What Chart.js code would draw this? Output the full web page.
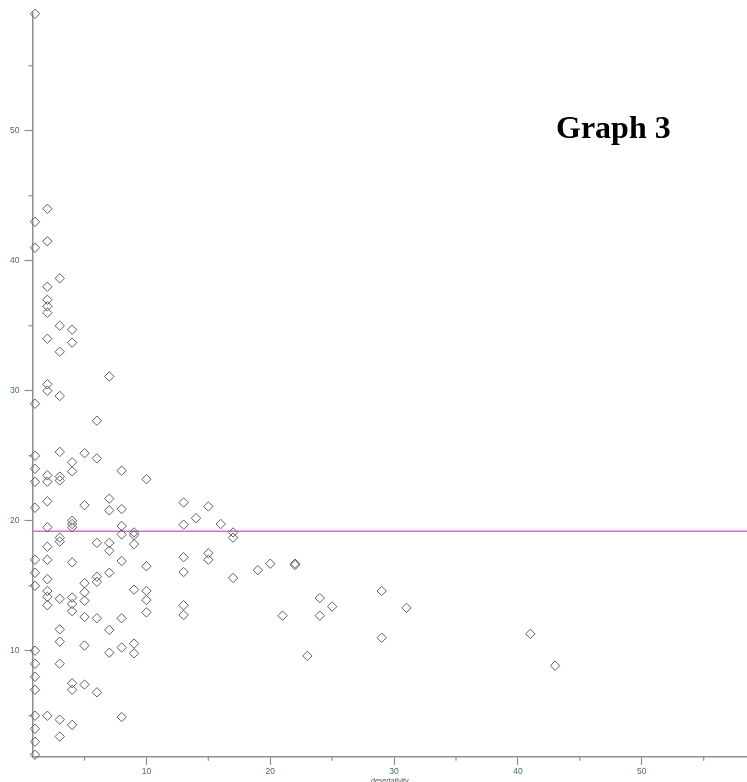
<!DOCTYPE html>
<html>
<head>
<meta charset="utf-8">
<script src="https://cdn.jsdelivr.net/npm/chart.js@4"></script>
<style>
  html, body { margin: 0; padding: 0; background: #fff; }
  #wrap { position: relative; width: 747px; height: 782px; }
  #title { position: absolute; left: 556px; top: 111px; font: bold 32px 'Liberation Serif', 'Times New Roman', serif; line-height: 32px; color: #000; white-space: nowrap; }
</style>
</head>
<body>
<div id="wrap">
  <canvas id="c" width="747" height="782"></canvas>
  <div id="title">Graph 3</div>
</div>
<script>
// ---- data ----
const xValues = [
  1,1,1,1,1,1,1,1,1,1,1,1,1,1,1,1,1,1,1,
  2,2,2,2,2,2,2,2,2,2,2,2,2,2,2,2,2,2,2,2,
  3,3,3,3,3,3,3,3,3,3,3,3,3,3,3,
  4,4,4,4,4,4,4,4,4,4,4,4,4,4,
  5,5,5,5,5,5,5,5,
  6,6,6,6,6,6,6,
  7,7,7,7,7,7,7,7,
  8,8,8,8,8,8,8,8,
  9,9,9,9,9,9,
  10,10,10,10,10,
  13,13,13,13,13,13,
  14,
  15,15,15,
  16,
  17,17,17,
  19,20,21,22,22,23,24,24,25,29,29,31,41,43
];
const yValues = [
  59,43,41,29,25,24,23,21,17,16,15,10,9,8,7,5,4,3,2,
  44,41.5,38,37,36.5,36,34,30.5,30,23.5,23,21.5,19.5,18,17,15.5,14.6,14.15,13.5,5,
  38.65,35,33,29.6,25.3,23.4,23.1,18.7,18.4,14,11.65,10.7,9,4.7,3.4,
  34.7,33.7,24.5,23.8,20,19.75,19.5,16.8,14.1,13.6,13.05,7.5,7,4.3,
  25.2,21.2,15.2,14.5,13.85,12.6,10.4,7.4,
  27.7,24.8,18.3,15.7,15.3,12.5,6.8,
  31.1,21.7,20.8,18.3,17.7,16,11.6,9.85,
  23.85,20.9,19.6,18.95,16.9,12.5,10.25,4.9,
  19.1,18.9,18.2,14.7,10.55,9.8,
  23.2,16.5,14.6,13.9,12.95,
  21.4,19.7,17.2,16.05,13.5,12.75,
  20.2,
  21.1,17.5,17,
  19.75,
  19.1,18.7,15.6,
  16.2,16.7,12.7,16.7,16.6,9.6,14.05,12.7,13.4,14.6,11,13.3,11.3,8.85
];
const referenceLevel = 19.2;
const xRange = [0.8, 58.5];
const yRange = [1.85, 59.1];
const majorTicks = [10, 20, 30, 40, 50];
const minorTicks = [5, 15, 25, 35, 45, 55];
const xAxisTitle = 'desertativity';

const points = xValues.map((x, i) => ({ x: x, y: yValues[i] }));

const axisColor = '#8f8f8f';
const labelColor = '#4b6b6e';

const minorTickPlugin = {
  id: 'minorTicks',
  afterDraw(chart) {
    const ctx = chart.ctx;
    const xs = chart.scales.x, ys = chart.scales.y;
    ctx.save();
    ctx.strokeStyle = axisColor;
    ctx.lineWidth = 1.2;
    minorTicks.forEach(v => {
      if (v > xs.min && v < xs.max) {
        const px = xs.getPixelForValue(v);
        ctx.beginPath(); ctx.moveTo(px, xs.top); ctx.lineTo(px, xs.top + 4); ctx.stroke();
      }
      if (v > ys.min && v < ys.max) {
        const py = ys.getPixelForValue(v);
        ctx.beginPath(); ctx.moveTo(ys.right - 4, py); ctx.lineTo(ys.right, py); ctx.stroke();
      }
    });
    ctx.restore();
  }
};

function noPad(scale) {
  scale.paddingLeft = 0; scale.paddingRight = 0;
  scale.paddingTop = 0; scale.paddingBottom = 0;
}

new Chart(document.getElementById('c'), {
  type: 'scatter',
  data: {
    datasets: [
      {
        label: 'points',
        data: points,
        pointStyle: 'rectRot',
        pointRadius: 4.7,
        borderColor: '#5e5e5e',
        borderWidth: 1,
        backgroundColor: 'rgba(0,0,0,0)',
        clip: false,
        order: 1
      },
      {
        type: 'line',
        label: 'level',
        data: [{ x: xRange[0], y: referenceLevel }, { x: xRange[1], y: referenceLevel }],
        borderColor: '#cf6fd6',
        borderWidth: 1.5,
        pointRadius: 0,
        fill: false,
        order: 2
      }
    ]
  },
  options: {
    responsive: false,
    animation: false,
    events: [],
    layout: { autoPadding: false, padding: { top: 12.5, right: 0, left: 0, bottom: 0 } },
    plugins: { legend: { display: false }, tooltip: { enabled: false }, title: { display: false } },
    scales: {
      x: {
        type: 'linear',
        min: xRange[0],
        max: xRange[1],
        afterFit(scale) { scale.height = 25.3; noPad(scale); },
        afterBuildTicks(scale) { scale.ticks = majorTicks.map(v => ({ value: v })); },
        border: { display: true, color: axisColor, width: 1.5 },
        grid: { drawOnChartArea: false, drawTicks: true, tickLength: 8, tickColor: axisColor, tickWidth: 1.2 },
        ticks: { color: labelColor, font: { family: 'Liberation Sans', size: 8.5 }, padding: 2, maxRotation: 0 },
        title: { display: true, text: xAxisTitle, color: '#555', font: { family: 'Liberation Sans', size: 7, style: 'italic' }, padding: { top: 0, bottom: -3 } }
      },
      y: {
        type: 'linear',
        min: yRange[0],
        max: yRange[1],
        afterFit(scale) { scale.width = 32.5; noPad(scale); },
        afterBuildTicks(scale) { scale.ticks = majorTicks.map(v => ({ value: v })); },
        border: { display: true, color: axisColor, width: 1.5 },
        grid: { drawOnChartArea: false, drawTicks: true, tickLength: 8, tickColor: axisColor, tickWidth: 1.2 },
        ticks: { color: labelColor, font: { family: 'Liberation Sans', size: 8.5 }, padding: 5 }
      }
    }
  },
  plugins: [minorTickPlugin]
});
</script>
</body>
</html>
